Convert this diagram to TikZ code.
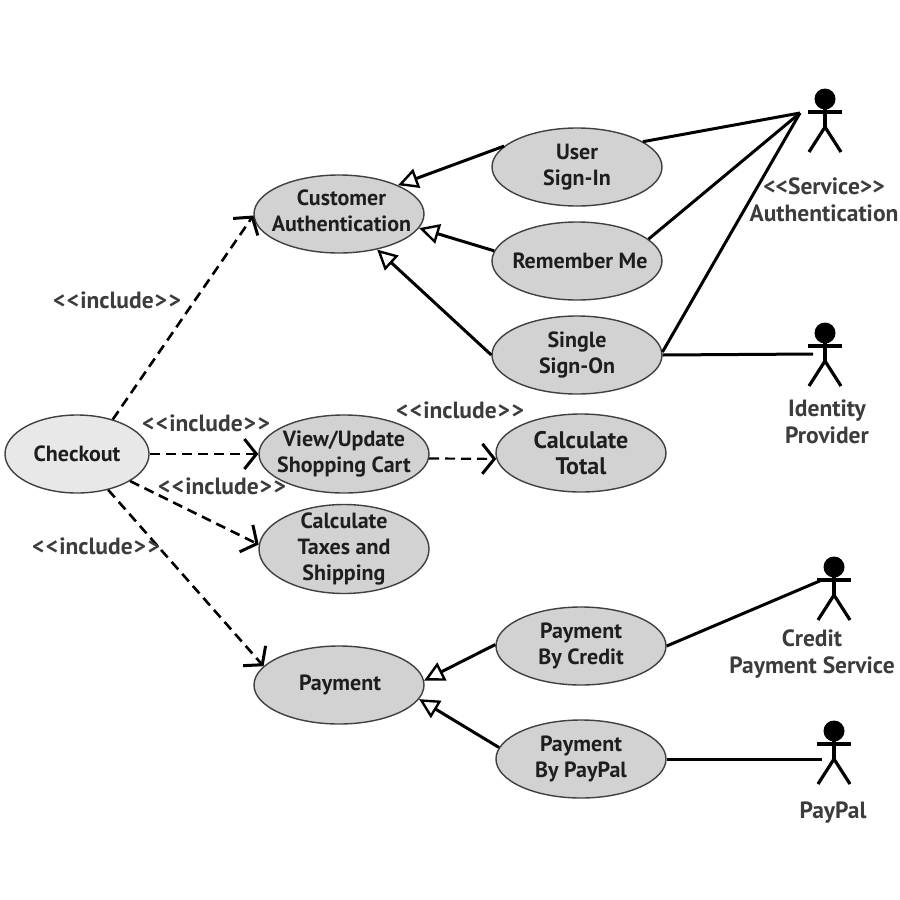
\documentclass[tikz,border=0pt]{standalone}
\usepackage{fontspec}
\setmainfont{PT Sans}
\usetikzlibrary{shapes.geometric,arrows.meta}
\definecolor{ufill}{HTML}{D2D2D2}
\definecolor{cfill}{HTML}{E8E8E8}
\definecolor{ink}{HTML}{1E1E1E}
\definecolor{lab}{HTML}{3C3C3C}
\tikzset{
  x=1pt,y=-1pt,
  usecase/.style={ellipse,draw=black!75,line width=1.4pt,fill=ufill,minimum width=170pt,minimum height=78pt,inner xsep=-40pt,inner ysep=-20pt,align=center,font=\fontsize{22}{26}\selectfont\bfseries,text=ink},
  lbl/.style={inner sep=0pt,align=center,font=\fontsize{23.5}{27}\selectfont\bfseries,text=lab},
  gen/.style={line width=3pt,black,-{Triangle[open,fill=white,length=20pt,width=20pt,line width=2.4pt]}},
  inc/.style={line width=2.6pt,black,dash pattern=on 10pt off 6pt,-{Straight Barb[length=12pt,width=30pt,line width=3pt]}},
  assoc/.style={line width=3pt,black},
  limb/.style={line width=3.2pt,black},
  head/.style={circle,fill=black,draw=none,minimum size=21pt,inner sep=0pt},
}
\newcommand{\actor}[3]{%
  \node[head] (#1head) at (#2,#3) {};
  \coordinate (#1neck) at (#2,#3+10);
  \coordinate (#1hip) at (#2,#3+28);
  \coordinate (#1la) at (#2-17,#3+13);
  \coordinate (#1ra) at (#2+17,#3+13);
  \coordinate (#1ll) at (#2-16,#3+53);
  \coordinate (#1rl) at (#2+16,#3+53);
  \draw[limb] (#1neck) -- (#1hip);
  \draw[limb] (#1la) -- (#1ra);
  \draw[limb] (#1ll) -- (#1hip) -- (#1rl);
}
\newcommand{\incl}{{<}\kern1.5pt{<}\kern1pt include\kern1pt{>}\kern1.5pt{>}}
\begin{document}
\begin{tikzpicture}
\useasboundingbox (0,0) rectangle (900,900);
\node[usecase] (cust) at (339,214) {\raisebox{7pt}{\hspace{5pt}Customer}\\\raisebox{7pt}{\hspace{5pt}Authentication}};
\node[usecase] (user) at (577,167) {\raisebox{-1pt}{User}\\\raisebox{-1pt}{Sign-In}};
\node[usecase] (rem) at (577,261) {\hspace{6pt}\raisebox{-1pt}{Remember Me}};
\node[usecase] (sso) at (577,355) {\raisebox{-1pt}{Single}\\\raisebox{-1pt}{Sign-On}};
\node[usecase,fill=cfill,minimum width=144pt] (chk) at (77,454) {\raisebox{-1pt}{Checkout}};
\node[usecase] (view) at (344,454) {\raisebox{-1pt}{View/Update}\\\raisebox{-1pt}{Shopping Cart}};
\node[usecase] (tot) at (581,453) {\fontsize{24}{27}\selectfont Calculate\\\fontsize{24}{27}\selectfont Total};
\node[usecase,minimum height=89pt] (tax) at (344,549) {Calculate\\Taxes and\\Shipping};
\node[usecase] (pay) at (339,685) {\raisebox{-2pt}{\hspace{2pt}Payment}};
\node[usecase] (cred) at (581,646) {Payment\\By Credit};
\node[usecase] (ppal) at (581,759) {\raisebox{-3pt}{Payment}\\\raisebox{-3pt}{By PayPal}};

\actor{a}{825}{99}
\actor{b}{825}{333}
\actor{c}{834}{567}
\actor{d}{834}{731}
\coordinate (aEnd) at (800,113);
\coordinate (bEnd) at (813,354);
\coordinate (cEnd) at (822,580);
\coordinate (dEnd) at (822,759);

\draw[gen] (user.164) -- (cust.26);
\draw[gen] (rem.173) -- (cust.-10);
\draw[gen] (sso.180) -- (cust.-43);
\draw[gen] (cred.179) -- (pay.3);
\draw[gen] (ppal.172) -- (pay.-10);

\draw[inc] (chk.44) -- (cust.181);
\draw[inc] (chk.0) -- (view.180);
\draw[inc,line width=2.2pt] (view.-3) -- (tot.184);
\draw[inc] (chk.-27) -- (tax.177);
\draw[inc] (chk.-49) -- (pay.166);

\draw[assoc] (user.21) -- (aEnd);
\draw[assoc] (rem.17) -- (aEnd);
\draw[assoc] (sso.2) -- (aEnd);
\draw[assoc] (sso.0) -- (bEnd);
\draw[assoc] (cred.0) -- (cEnd);
\draw[assoc] (ppal.0) -- (dEnd);

\node[lbl] (i1) at (117,300) {\incl};
\node[lbl] (i2) at (206,423) {\incl};
\node[lbl] (i3) at (222,486) {\incl};
\node[lbl] (i4) at (96,546) {\incl};
\node[lbl] (i5) at (460,410) {\incl};
\node[lbl] (la) at (824,199.5) {{<}{<}Service{>}{>}\\Authentication};
\node[lbl] (lb) at (827,421.5) {Identity\\Provider};
\node[lbl] (lc) at (812,654) {Credit\\Payment Service};
\node[lbl] (ld) at (833,813) {PayPal};
\end{tikzpicture}
\end{document}
